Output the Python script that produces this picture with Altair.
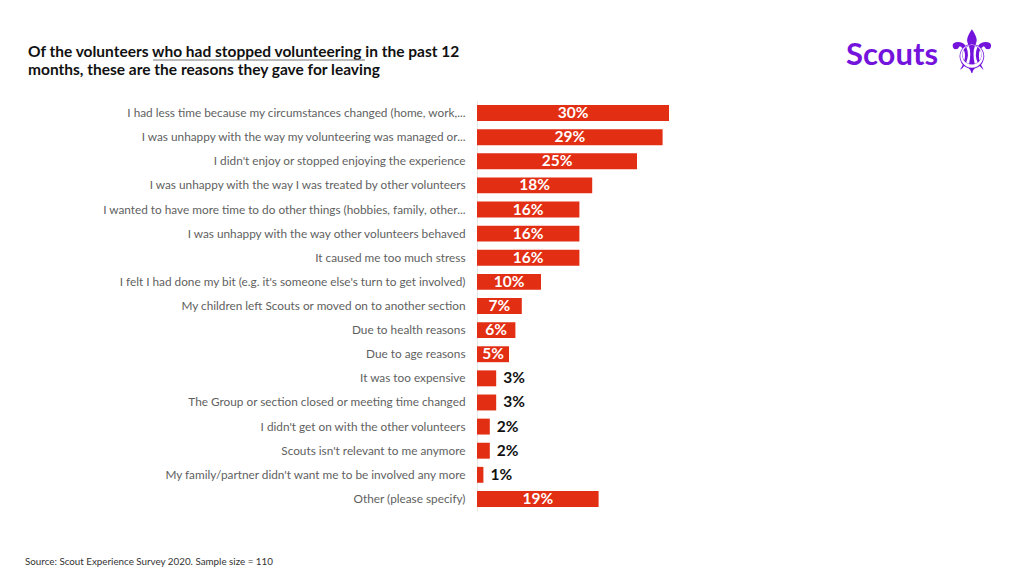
import altair as alt
import pandas as pd

reasons = [
    "I had less time because my circumstances changed (home, work,...",
    "I was unhappy with the way my volunteering was managed or...",
    "I didn't enjoy or stopped enjoying the experience",
    "I was unhappy with the way I was treated by other volunteers",
    "I wanted to have more time to do other things (hobbies, family, other...",
    "I was unhappy with the way other volunteers behaved",
    "It caused me too much stress",
    "I felt I had done my bit (e.g. it's someone else's turn to get involved)",
    "My children left Scouts or moved on to another section",
    "Due to health reasons",
    "Due to age reasons",
    "It was too expensive",
    "The Group or section closed or meeting time changed",
    "I didn't get on with the other volunteers",
    "Scouts isn't relevant to me anymore",
    "My family/partner didn't want me to be involved any more",
    "Other (please specify)",
]
values = [30, 29, 25, 18, 16, 16, 16, 10, 7, 6, 5, 3, 3, 2, 2, 1, 19]

title_lines = [
    "Of the volunteers who had stopped volunteering in the past 12",
    "months, these are the reasons they gave for leaving",
]
source_text = "Source: Scout Experience Survey 2020. Sample size = 110"

FONT = "Lato"
RED = "#E22E12"
PURPLE = "#7413DC"

df = pd.DataFrame({"reason": reasons, "value": values})
df["label"] = df["value"].astype(str) + "%"
df["mid"] = df["value"] / 2
df["inside"] = df["value"] >= 5

y_enc = alt.Y(
    "reason:N",
    sort=reasons,
    title=None,
    scale=alt.Scale(paddingInner=0.34, paddingOuter=0.17),
    axis=alt.Axis(
        labelFont=FONT,
        labelFontSize=11.8,
        labelColor="#5f5f5f",
        labelLimit=440,
        labelPadding=12,
        ticks=False,
        domain=True,
        domainColor="#e6e6e6",
        domainWidth=1,
    ),
)
x_scale = alt.Scale(domain=[0, 50], nice=False)

base = alt.Chart(df)

bars = base.mark_bar(color=RED, cornerRadius=0).encode(
    x=alt.X("value:Q", scale=x_scale, axis=None),
    y=y_enc,
)

inside_labels = base.transform_filter("datum.inside").mark_text(
    font=FONT, fontSize=15.5, fontWeight="bold", color="white", align="center", baseline="middle"
).encode(
    x=alt.X("mid:Q", scale=x_scale),
    y=alt.Y("reason:N", sort=reasons),
    text="label:N",
)

outside_labels = base.transform_filter("!datum.inside").mark_text(
    font=FONT, fontSize=15.5, fontWeight="bold", color="#111111", align="left", baseline="middle", dx=7
).encode(
    x=alt.X("value:Q", scale=x_scale),
    y=alt.Y("reason:N", sort=reasons),
    text="label:N",
)

title_df = pd.DataFrame({"t": title_lines, "yy": [-44, -26]})
title = alt.Chart(title_df).mark_text(
    font=FONT, fontSize=15.5, fontWeight="bold", color="#111111", align="left", baseline="alphabetic"
).encode(
    x=alt.value(-449),
    y=alt.Y("yy:Q", scale=None),
    text="t:N",
)

underline = alt.Chart(pd.DataFrame({"a": [0]})).mark_rule(color="#777777", strokeWidth=1).encode(
    x=alt.value(-324), x2=alt.value(-112), y=alt.value(-41)
)

logo_text = alt.Chart(pd.DataFrame({"t": ["Scouts"]})).mark_text(
    font=FONT, fontSize=31, fontWeight="bold", color=PURPLE, align="left", baseline="alphabetic"
).encode(x=alt.value(369), y=alt.value(-36), text="t:N")

logo_icon = alt.Chart(pd.DataFrame({"t": ["\u269c"]})).mark_text(
    font="DejaVu Sans", fontSize=60, color=PURPLE, align="center", baseline="middle"
).encode(x=alt.value(495), y=alt.value(-46), text="t:N")

source = alt.Chart(pd.DataFrame({"t": [source_text]})).mark_text(
    font=FONT, fontSize=9.8, color="#333333", align="left", baseline="alphabetic"
).encode(x=alt.value(-452), y=alt.value(464), text="t:N")

chart = alt.layer(
    bars, inside_labels, outside_labels, title, underline, logo_text, logo_icon, source
).properties(
    width=320,
    height=410,
    autosize=alt.AutoSizeParams(type="none"),
    padding={"left": 469, "top": 93, "right": 219, "bottom": 62},
    background="white",
).configure_view(stroke=None)

chart.save("out.html", embed_options={"renderer": "svg", "actions": False})
